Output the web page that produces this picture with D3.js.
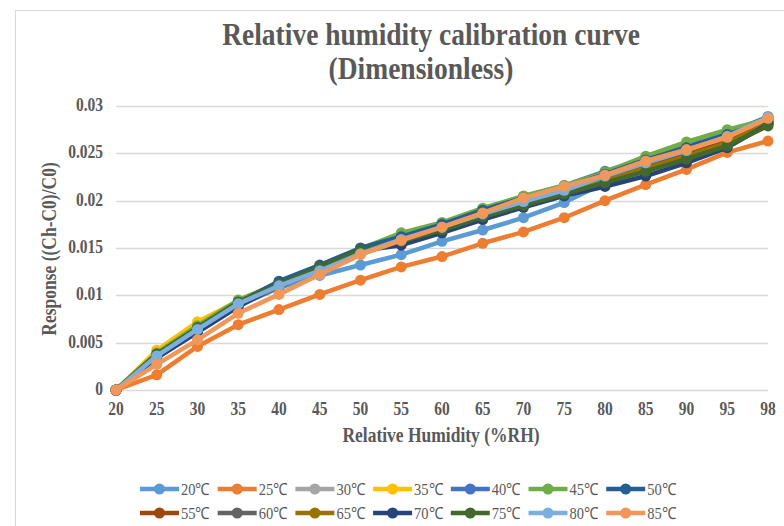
<!DOCTYPE html>
<html>
<head>
<meta charset="utf-8">
<script src="https://cdn.jsdelivr.net/npm/d3@7"></script>
<style>
  body { margin: 0; background: #fff; }
  svg { display: block; }
  text { font-family: "Liberation Serif", "Times New Roman", serif; fill: #595959; }
</style>
</head>
<body>
<svg id="chart" width="784" height="526"></svg>
<script>
// 横轴：相对湿度类别
const humidity = ["20", "25", "30", "35", "40", "45", "50", "55", "60", "65", "70", "75", "80", "85", "90", "95", "98"];
// 纵轴刻度
const yTicks = [0, 0.005, 0.01, 0.015, 0.02, 0.025, 0.03];
const yTickLabels = ["0", "0.005", "0.01", "0.015", "0.02", "0.025", "0.03"];

// 各温度名称与颜色
const tempNames = ["20℃", "25℃", "30℃", "35℃", "40℃", "45℃", "50℃", "55℃", "60℃", "65℃", "70℃", "75℃", "80℃", "85℃"];
const tempColors = ["#5B9BD5", "#ED7D31", "#A5A5A5", "#FFC000", "#4472C4", "#70AD47", "#255E91",
                    "#9E480E", "#636363", "#997300", "#264478", "#43682B", "#7CAFDD", "#F1975A"];

// 每条曲线的响应值
const t20 = [0, 0.0035, 0.0062, 0.0089, 0.0108, 0.0121, 0.0132, 0.0143, 0.0157, 0.0169, 0.0182, 0.0198, 0.0219, 0.0238, 0.0254, 0.0270, 0.0289];
const t25 = [0, 0.0016, 0.0046, 0.0069, 0.0085, 0.0101, 0.0116, 0.0130, 0.0141, 0.0155, 0.0167, 0.0182, 0.0200, 0.0217, 0.0233, 0.0251, 0.0263];
const t30 = [0, 0.0038, 0.0067, 0.0092, 0.0111, 0.0129, 0.0146, 0.0159, 0.0172, 0.0187, 0.0199, 0.0211, 0.0224, 0.0238, 0.0251, 0.0265, 0.0284];
const t35 = [0, 0.0042, 0.0072, 0.0094, 0.0112, 0.0130, 0.0147, 0.0160, 0.0173, 0.0188, 0.0200, 0.0212, 0.0225, 0.0239, 0.0252, 0.0266, 0.0285];
const t40 = [0, 0.0037, 0.0066, 0.0093, 0.0114, 0.0131, 0.0149, 0.0163, 0.0176, 0.0191, 0.0204, 0.0216, 0.0231, 0.0245, 0.0258, 0.0272, 0.0288];
const t45 = [0, 0.0039, 0.0068, 0.0095, 0.0113, 0.0131, 0.0149, 0.0166, 0.0177, 0.0192, 0.0205, 0.0216, 0.0230, 0.0247, 0.0262, 0.0275, 0.0286];
const t50 = [0, 0.0036, 0.0065, 0.0092, 0.0115, 0.0132, 0.0150, 0.0162, 0.0175, 0.0190, 0.0203, 0.0214, 0.0228, 0.0243, 0.0256, 0.0270, 0.0284];
const t55 = [0, 0.0035, 0.0063, 0.0090, 0.0110, 0.0128, 0.0146, 0.0158, 0.0170, 0.0185, 0.0198, 0.0210, 0.0222, 0.0236, 0.0249, 0.0263, 0.0282];
const t60 = [0, 0.0034, 0.0062, 0.0089, 0.0109, 0.0127, 0.0145, 0.0156, 0.0168, 0.0183, 0.0196, 0.0208, 0.0220, 0.0233, 0.0246, 0.0260, 0.0281];
const t65 = [0, 0.0037, 0.0065, 0.0091, 0.0110, 0.0128, 0.0145, 0.0157, 0.0169, 0.0184, 0.0197, 0.0209, 0.0221, 0.0234, 0.0247, 0.0261, 0.0282];
const t70 = [0, 0.0034, 0.0061, 0.0088, 0.0111, 0.0129, 0.0147, 0.0153, 0.0166, 0.0180, 0.0193, 0.0205, 0.0215, 0.0226, 0.0240, 0.0256, 0.0281];
const t75 = [0, 0.0038, 0.0066, 0.0093, 0.0112, 0.0130, 0.0148, 0.0157, 0.0169, 0.0183, 0.0195, 0.0207, 0.0219, 0.0231, 0.0244, 0.0258, 0.0279];
const t80 = [0, 0.0036, 0.0064, 0.0091, 0.0110, 0.0126, 0.0144, 0.0159, 0.0172, 0.0186, 0.0199, 0.0211, 0.0226, 0.0240, 0.0253, 0.0268, 0.0288];
const t85 = [0, 0.0027, 0.0053, 0.0081, 0.0101, 0.0122, 0.0143, 0.0158, 0.0172, 0.0187, 0.0203, 0.0215, 0.0227, 0.0242, 0.0254, 0.0267, 0.0287];

const allSeries = [t20, t25, t30, t35, t40, t45, t50, t55, t60, t65, t70, t75, t80, t85];

const svg = d3.select("#chart");

// 原图字体偏瘦高，纵向略微拉伸
const stretch = 1.15;
function addText(parent, x, y, str, size, opts = {}) {
    const rot = opts.rotate ? " rotate(-90)" : "";
    return parent.append("text")
        .attr("transform", `translate(${x},${y})${rot} scale(1,${stretch})`)
        .attr("text-anchor", opts.anchor || "middle")
        .style("font-size", size + "px")
        .style("font-weight", opts.normal ? "normal" : "bold")
        .text(str);
}

// 图表外框
svg.append("rect").attr("x", 15.5).attr("y", 10.5).attr("width", 800).attr("height", 530)
    .attr("fill", "#fff").attr("stroke", "#d9d9d9");

// 比例尺
const xScale = d3.scalePoint().domain(humidity).range([116, 768]);
const yScale = d3.scaleLinear().domain([0, 0.03]).range([390, 106]);

// 网格线
svg.append("g").selectAll("line").data(yTicks).join("line")
    .attr("x1", 116).attr("x2", 768)
    .attr("y1", d => Math.round(yScale(d)) + 0.5).attr("y2", d => Math.round(yScale(d)) + 0.5)
    .attr("stroke", "#d9d9d9").attr("stroke-width", 1.3);

// 纵轴刻度文字
const yLab = svg.append("g");
yTicks.forEach((d, i) => addText(yLab, 103, yScale(d) + 5, yTickLabels[i], 15.5, { anchor: "end" }));

// 横轴刻度文字
const xLab = svg.append("g");
humidity.forEach(d => addText(xLab, xScale(d), 415, d, 15.5));

// 曲线与标记
const line = d3.line().x((d, i) => xScale(humidity[i])).y(d => yScale(d));
const plot = svg.append("g");
allSeries.forEach((values, k) => {
    const g = plot.append("g");
    g.append("path").datum(values).attr("d", line)
        .attr("fill", "none").attr("stroke", tempColors[k]).attr("stroke-width", 4.5)
        .attr("stroke-linejoin", "round");
    g.selectAll("circle").data(values).join("circle")
        .attr("cx", (d, i) => xScale(humidity[i])).attr("cy", d => yScale(d)).attr("r", 5.5)
        .attr("fill", tempColors[k]);
});

// 标题
addText(svg, 431, 45, "Relative humidity calibration curve", 27.5);
addText(svg, 421, 79, "(Dimensionless)", 27.5);

// 坐标轴标题
addText(svg, 441, 442, "Relative Humidity (%RH)", 17.5);
addText(svg, 56, 249, "Response ((Ch-C0)/C0)", 17.5, { rotate: true });

// 图例：两行，每行7项
const legend = svg.append("g");
tempNames.forEach((name, k) => {
    const col = k % 7, row = Math.floor(k / 7);
    const lx = 140 + col * 77.7, ly = 489 + row * 24;
    const item = legend.append("g").attr("transform", `translate(${lx},${ly})`);
    item.append("line").attr("x1", 0).attr("x2", 39).attr("y1", 0).attr("y2", 0)
        .attr("stroke", tempColors[k]).attr("stroke-width", 4.5);
    item.append("circle").attr("cx", 19.5).attr("cy", 0).attr("r", 5.5).attr("fill", tempColors[k]);
    addText(item, 41, 5.5, name, 14.5, { anchor: "start", normal: true });
});
</script>
</body>
</html>
